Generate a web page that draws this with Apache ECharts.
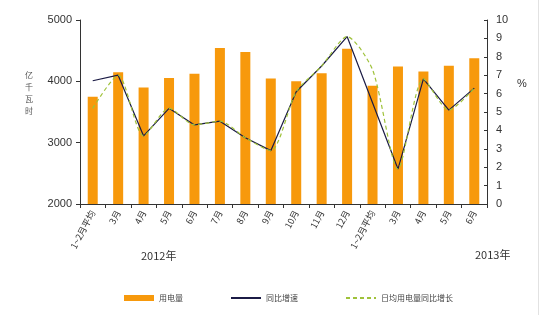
<!DOCTYPE html>
<html><head><meta charset="utf-8">
<script src="https://cdn.jsdelivr.net/npm/echarts@6/dist/echarts.min.js"></script>
<style>html,body{margin:0;padding:0;background:#fff}#c{width:548px;height:315px}</style>
</head><body><div id="c"></div>
<script>
const categories = ['1~2月平均','3月','4月','5月','6月','7月','8月','9月','10月','11月','12月','1~2月平均','3月','4月','5月','6月'];
const consumption = [3750,4150,3900,4055,4125,4545,4480,4045,4000,4130,4530,3930,4240,4160,4255,4375];
const yoyGrowth = [6.7,7.0,3.7,5.2,4.3,4.5,3.6,2.9,6.1,7.5,9.1,5.5,1.9,6.8,5.1,6.3];
const dailyGrowth = [5.2,7.0,3.7,5.2,4.3,4.5,3.6,2.9,6.1,7.5,9.1,7.3,1.9,6.8,5.1,6.3];
const leftTicks = {min:2000, max:5000, interval:1000};
const rightTicks = {min:0, max:10, interval:1};
const seriesNames = ['用电量','同比增速','日均用电量同比增长'];

const FONT = "'Liberation Sans','Noto Sans CJK SC',sans-serif";
const CJK = "'Noto Sans CJK SC',sans-serif";
const chart = echarts.init(document.getElementById('c'));
chart.setOption({
  animation:false,
  backgroundColor:'#fff',
  textStyle:{fontFamily:FONT},
  grid:{left:80,right:61,top:20,bottom:111},
  legend:{
    left:119, top:289, itemGap:47, itemWidth:30, itemHeight:6,
    textStyle:{fontSize:8,color:'#444',fontFamily:CJK},
    data:[
      {name:seriesNames[0],icon:'rect'},
      {name:seriesNames[1],itemStyle:{opacity:0}},
      {name:seriesNames[2],itemStyle:{opacity:0}}
    ]
  },
  xAxis:{
    type:'category', data:categories,
    axisLine:{lineStyle:{color:'#333',width:1}},
    axisTick:{show:true,inside:false,length:4,lineStyle:{color:'#333'}},
    axisLabel:{rotate:62,fontSize:9,color:'#333',margin:7,fontFamily:CJK}
  },
  yAxis:[
    {type:'value',min:leftTicks.min,max:leftTicks.max,interval:leftTicks.interval,
     axisLine:{show:true,lineStyle:{color:'#333'}},
     axisTick:{show:true,length:4,lineStyle:{color:'#333'}},
     splitLine:{show:false},
     axisLabel:{fontSize:11,color:'#333',margin:8,formatter:v=>String(v)}},
    {type:'value',min:rightTicks.min,max:rightTicks.max,interval:rightTicks.interval,
     position:'right',
     axisLine:{show:true,lineStyle:{color:'#333'}},
     axisTick:{show:true,inside:true,length:3,lineStyle:{color:'#333'}},
     splitLine:{show:false},
     axisLabel:{fontSize:11,color:'#333',margin:9,formatter:v=>String(v)}}
  ],
  series:[
    {name:seriesNames[0],type:'bar',data:consumption,barWidth:10,itemStyle:{color:'#F7990C'}},
    {name:seriesNames[1],type:'line',yAxisIndex:1,data:yoyGrowth,symbol:'none',
     lineStyle:{color:'#1b1b45',width:1.2},itemStyle:{color:'#1b1b45'}},
    {name:seriesNames[2],type:'line',yAxisIndex:1,data:dailyGrowth,symbol:'none',smooth:0.25,
     lineStyle:{color:'#9fc23a',width:1.2,type:[4,3]},itemStyle:{color:'#9fc23a'}}
  ],
  graphic:[
    {type:'text',left:141,top:250,style:{text:'2012年',fontSize:11,fill:'#333',fontFamily:CJK}},
    {type:'text',left:475,top:249,style:{text:'2013年',fontSize:11,fill:'#333',fontFamily:CJK}},
    {type:'text',left:25,top:69,style:{text:'亿\n千\n瓦\n时',fontSize:8,lineHeight:12,fill:'#555',fontFamily:CJK}},
    {type:'text',left:517,top:78,style:{text:'%',fontSize:11,fill:'#333'}},
    {type:'line',shape:{x1:538.5,y1:0,x2:538.5,y2:315},style:{stroke:'#e2e2e2',lineWidth:1}}
  ]
});
</script></body></html>
